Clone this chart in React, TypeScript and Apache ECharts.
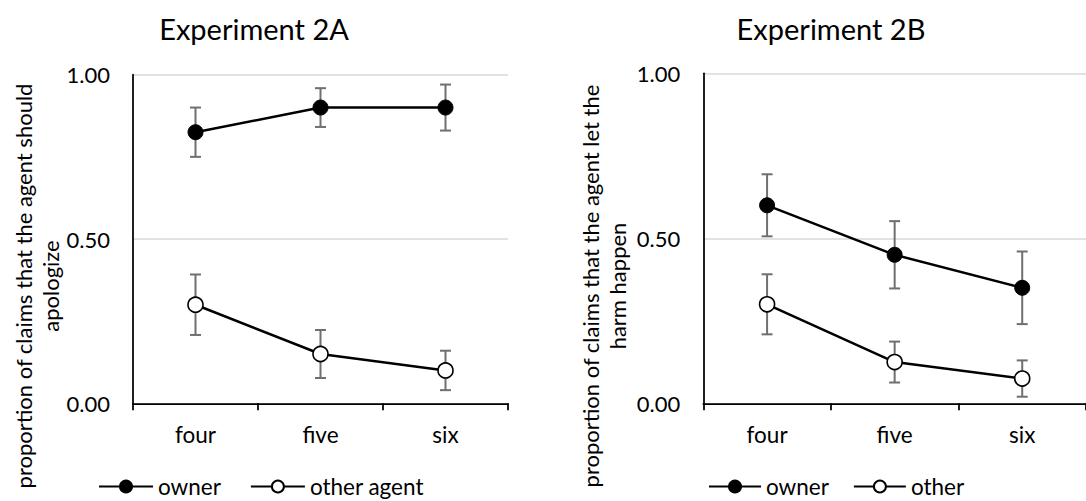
import React, { useEffect, useRef } from "react";
import * as echarts from "echarts";

const categories = ["four", "five", "six"];
const yTicks = [0, 0.5, 1];

// Experiment 2A
const ownerA = [0.825, 0.9, 0.9];
const ownerAErr = [0.075, 0.059, 0.07];
const otherA = [0.3, 0.15, 0.1];
const otherAErr = [0.092, 0.073, 0.06];

// Experiment 2B
const ownerB = [0.6, 0.45, 0.35];
const ownerBErr = [0.094, 0.102, 0.11];
const otherB = [0.3, 0.125, 0.075];
const otherBErr = [0.091, 0.062, 0.055];

const titleA = "Experiment 2A";
const titleB = "Experiment 2B";
const yNameA = "proportion of claims that the agent should\napologize";
const yNameB = "proportion of claims that the agent let the\nharm happen";
const legendA = ["owner", "other agent"];
const legendB = ["owner", "other"];

const FONT = "Lato";

function errData(vals: number[], errs: number[]) {
  return vals.map((v, i) => [i, v - errs[i], v + errs[i]]);
}

function errorSeries(idx: number, vals: number[], errs: number[]) {
  return {
    type: "custom",
    xAxisIndex: idx,
    yAxisIndex: idx,
    z: 1,
    silent: true,
    data: errData(vals, errs),
    renderItem: (params: any, api: any) => {
      const x = api.value(0);
      const lo = api.coord([x, api.value(1)]);
      const hi = api.coord([x, api.value(2)]);
      const hw = 5.5;
      const st = { stroke: "#6f6f6f", lineWidth: 2 };
      return {
        type: "group",
        children: [
          { type: "line", shape: { x1: lo[0], y1: lo[1], x2: hi[0], y2: hi[1] }, style: st },
          { type: "line", shape: { x1: lo[0] - hw, y1: lo[1], x2: lo[0] + hw, y2: lo[1] }, style: st },
          { type: "line", shape: { x1: hi[0] - hw, y1: hi[1], x2: hi[0] + hw, y2: hi[1] }, style: st },
        ],
      };
    },
  };
}

function lineSeries(idx: number, name: string, vals: number[], filled: boolean) {
  return {
    type: "line",
    name,
    xAxisIndex: idx,
    yAxisIndex: idx,
    z: 3,
    data: vals,
    symbol: "circle",
    symbolSize: 15,
    lineStyle: { color: "#000", width: 2.5 },
    itemStyle: filled
      ? { color: "#000", borderColor: "#000", borderWidth: 1 }
      : { color: "#fff", borderColor: "#000", borderWidth: 1.6 },
  };
}

function xAxis(idx: number) {
  return {
    type: "category",
    gridIndex: idx,
    data: categories,
    boundaryGap: true,
    axisLine: { lineStyle: { color: "#000", width: 1.75 } },
    axisTick: { show: true, length: 7, lineStyle: { color: "#000", width: 1.75 } },
    axisLabel: { color: "#000", fontFamily: FONT, fontSize: 22.5, margin: 20 },
    splitLine: { show: false },
  };
}

function yAxis(idx: number) {
  return {
    type: "value",
    gridIndex: idx,
    min: yTicks[0],
    max: yTicks[yTicks.length - 1],
    interval: yTicks[1] - yTicks[0],
    axisLine: { show: true, lineStyle: { color: "#000", width: 1.75 } },
    axisTick: { show: false },
    axisLabel: {
      color: "#000",
      fontFamily: FONT,
      fontSize: 22,
      margin: 23,
      formatter: (v: number) => v.toFixed(2),
    },
    splitLine: { show: true, lineStyle: { color: "#d9d9d9", width: 1.5 } },
  };
}

export default function App() {
  const ref = useRef<HTMLDivElement>(null);
  useEffect(() => {
    if (!ref.current) return;
    const chart = echarts.init(ref.current, undefined, { renderer: "svg" });
    const legendText = { color: "#000", fontFamily: FONT, fontSize: 22.5 };
    chart.setOption({
      animation: false,
      backgroundColor: "#fff",
      grid: [
        { left: 133, top: 74.7, width: 375, height: 328.6 },
        { left: 703.3, top: 73.3, width: 390, height: 330 },
      ],
      xAxis: [xAxis(0), xAxis(1)],
      yAxis: [yAxis(0), yAxis(1)],
      legend: [
        {
          data: legendA,
          left: 98,
          top: 475,
          padding: 0,
          itemWidth: 54,
          itemHeight: 15,
          itemGap: 29,
          textStyle: legendText,
          selectedMode: false,
        },
        {
          data: legendB,
          left: 708,
          top: 475,
          padding: 0,
          itemWidth: 52,
          itemHeight: 15,
          itemGap: 24,
          textStyle: legendText,
          selectedMode: false,
        },
      ],
      graphic: [
        {
          type: "text",
          x: 254,
          y: 28,
          style: { text: titleA, textAlign: "center", textVerticalAlign: "middle", fill: "#000", fontFamily: FONT, fontSize: 29 },
        },
        {
          type: "text",
          x: 831,
          y: 28,
          style: { text: titleB, textAlign: "center", textVerticalAlign: "middle", fill: "#000", fontFamily: FONT, fontSize: 29 },
        },
        {
          type: "text",
          x: 37,
          y: 286,
          rotation: Math.PI / 2,
          style: { text: yNameA, textAlign: "center", textVerticalAlign: "middle", fill: "#000", fontFamily: FONT, fontSize: 22, lineHeight: 27 },
        },
        {
          type: "text",
          x: 604,
          y: 286,
          rotation: Math.PI / 2,
          style: { text: yNameB, textAlign: "center", textVerticalAlign: "middle", fill: "#000", fontFamily: FONT, fontSize: 22, lineHeight: 27 },
        },
      ],
      series: [
        errorSeries(0, ownerA, ownerAErr),
        errorSeries(0, otherA, otherAErr),
        lineSeries(0, legendA[0], ownerA, true),
        lineSeries(0, legendA[1], otherA, false),
        errorSeries(1, ownerB, ownerBErr),
        errorSeries(1, otherB, otherBErr),
        lineSeries(1, legendB[0], ownerB, true),
        lineSeries(1, legendB[1], otherB, false),
      ],
    });
    return () => chart.dispose();
  }, []);
  return (
    <div
      ref={ref}
      style={{ position: "fixed", left: 0, top: 0, width: 1086, height: 501, background: "#fff" }}
    />
  );
}
